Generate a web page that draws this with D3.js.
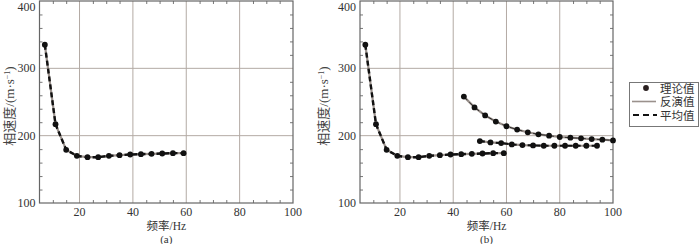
<!DOCTYPE html>
<html>
<head>
<meta charset="utf-8">
<script src="https://cdn.jsdelivr.net/npm/d3@7"></script>
<style>
  body { margin: 0; background: #fff; }
  svg { display: block; }
</style>
</head>
<body>
<script>
// Constantes generales de la figura.
const WIDTH = 700;
const HEIGHT = 244;
const FONT = "'Liberation Serif', 'Noto Sans CJK SC', serif";

// Datos: modo fundamental (aparece en ambos paneles).
const FREQ_MODO0 = [7, 11, 15, 19, 23, 27, 31, 35, 39, 43, 47, 51, 55, 59];
const VEL_MODO0 = [335, 217, 179, 170, 168, 168, 170, 171, 172, 172.5, 173, 173.5, 174, 174];

// Datos del panel (b): primer modo superior.
const FREQ_MODO1 = [44, 48, 52, 56, 60, 64, 68, 72, 76, 80, 84, 88, 92, 96, 100];
const VEL_MODO1 = [258, 242, 230, 221, 214, 209, 205, 202, 200, 198, 197, 196, 195, 194, 193];

// Datos del panel (b): segundo modo superior.
const FREQ_MODO2 = [50, 54, 58, 62, 66, 70, 74, 78, 82, 86, 90, 94];
const VEL_MODO2 = [192, 190, 189, 187, 186, 185.5, 185, 185, 185, 185, 185, 185];

// Ticks y textos.
const X_TICKS = [20, 40, 60, 80, 100];
const Y_TICKS = [100, 200, 300, 400];
const LEYENDA = ["理论值", "反演值", "平均值"];

const svg = d3.select("body")
  .append("svg")
  .attr("width", WIDTH)
  .attr("height", HEIGHT)
  .style("font-family", FONT);

const zip = (xs, ys) => xs.map((x, i) => ({ f: x, v: ys[i] }));

// Dibuja un panel completo. caja = [x0, x1] del área de datos.
function panel(caja, curvas, etiqueta, tituloX, posTituloY) {
  const x = d3.scaleLinear().domain([5, 100]).range(caja);
  const y = d3.scaleLinear().domain([100, 400]).range([203, 1]);
  const g = svg.append("g");

  // Rejilla mayor.
  g.selectAll(".gx").data(X_TICKS.slice(0, -1)).join("line")
    .attr("x1", d => x(d)).attr("x2", d => x(d))
    .attr("y1", y(100)).attr("y2", y(400))
    .attr("stroke", "#b3aaa4").attr("stroke-width", 1);
  g.selectAll(".gy").data([200, 300]).join("line")
    .attr("x1", caja[0]).attr("x2", caja[1])
    .attr("y1", d => y(d)).attr("y2", d => y(d))
    .attr("stroke", "#b3aaa4").attr("stroke-width", 1);

  // Ticks menores hacia adentro en los cuatro lados.
  const menX = d3.range(10, 100, 5).filter(d => d % 20 !== 0);
  const menY = d3.range(120, 400, 20).filter(d => d % 100 !== 0);
  const ejes = [
    [d3.axisBottom(x), y(100), 0],
    [d3.axisTop(x), y(400), 0],
    [d3.axisLeft(y), 0, caja[0]],
    [d3.axisRight(y), 0, caja[1]],
  ];
  ejes.forEach(([eje, ty, tx], i) => {
    const esX = i < 2;
    g.append("g")
      .attr("transform", `translate(${tx},${ty})`)
      .call(eje.tickValues(esX ? menX : menY).tickSizeInner(-3).tickSizeOuter(0).tickFormat(""))
      .call(s => s.select(".domain").remove())
      .selectAll("line").attr("stroke", "#777");
  });

  // Etiquetas de los ejes.
  g.selectAll(".tx").data(X_TICKS).join("text")
    .attr("x", d => x(d)).attr("y", 216)
    .attr("text-anchor", "middle")
    .attr("font-size", 12).attr("fill", "#333")
    .text(d => d);
  g.selectAll(".ty").data(Y_TICKS).join("text")
    .attr("x", caja[0] - 4).attr("y", d => Math.max(y(d) + 4, 11))
    .attr("text-anchor", "end")
    .attr("font-size", 12).attr("fill", "#333")
    .text(d => d);

  // Marco del gráfico.
  g.append("rect")
    .attr("x", caja[0]).attr("y", y(400))
    .attr("width", caja[1] - caja[0]).attr("height", y(100) - y(400))
    .attr("fill", "none").attr("stroke", "#666").attr("stroke-width", 1.2);

  // Títulos.
  const cx = (caja[0] + caja[1]) / 2;
  g.append("text").attr("x", cx).attr("y", 230)
    .attr("text-anchor", "middle").attr("font-size", 11.5).attr("fill", "#333")
    .text(tituloX);
  g.append("text").attr("x", cx).attr("y", 243)
    .attr("text-anchor", "middle").attr("font-size", 11).attr("fill", "#333")
    .text(etiqueta);
  const ty = g.append("text")
    .attr("transform", `translate(${posTituloY},106) rotate(-90)`)
    .attr("text-anchor", "middle").attr("font-size", 13).attr("fill", "#444");
  ty.append("tspan").text("相速度/(m·s");
  ty.append("tspan").attr("dy", -4).attr("font-size", 8).text("−1");
  ty.append("tspan").attr("dy", 4).text(")");

  // Curvas: línea gris (inversión), línea discontinua (promedio) y puntos (teórico).
  const linea = d3.line().x(d => x(d.f)).y(d => y(d.v));
  curvas.forEach(c => {
    g.append("path").datum(c.datos).attr("d", linea)
      .attr("fill", "none").attr("stroke", "#9a918c").attr("stroke-width", 2.2);
    g.append("path").datum(c.datos).attr("d", linea)
      .attr("fill", "none").attr("stroke", "#111")
      .attr("stroke-width", c.grueso).attr("stroke-dasharray", "5,3");
    g.selectAll(null).data(c.datos).join("circle")
      .attr("cx", d => x(d.f)).attr("cy", d => y(d.v)).attr("r", 2.9)
      .attr("fill", "#111");
  });
}

panel([39.5, 293], [{ datos: zip(FREQ_MODO0, VEL_MODO0), grueso: 2.4 }], "(a)", "频率/Hz", 14);
panel([360, 613], [
  { datos: zip(FREQ_MODO0, VEL_MODO0), grueso: 2.4 },
  { datos: zip(FREQ_MODO1, VEL_MODO1), grueso: 0.8 },
  { datos: zip(FREQ_MODO2, VEL_MODO2), grueso: 2.2 },
], "(b)", "频率/Hz", 328);

// Leyenda.
const ley = svg.append("g");
ley.append("rect").attr("x", 629.5).attr("y", 82.5).attr("width", 69).attr("height", 44)
  .attr("fill", "#fff").attr("stroke", "#777").attr("stroke-width", 1);
const filas = [88, 101.5, 115];
ley.append("circle").attr("cx", 646).attr("cy", filas[0]).attr("r", 2.9).attr("fill", "#2a2020");
ley.append("line").attr("x1", 632).attr("x2", 656).attr("y1", filas[1]).attr("y2", filas[1])
  .attr("stroke", "#9a918c").attr("stroke-width", 1.6);
ley.append("line").attr("x1", 633).attr("x2", 657).attr("y1", filas[2]).attr("y2", filas[2])
  .attr("stroke", "#111").attr("stroke-width", 2.2).attr("stroke-dasharray", "6,4");
ley.selectAll(".lt").data(LEYENDA).join("text")
  .attr("x", 660).attr("y", (d, i) => filas[i] + 4.5)
  .attr("font-size", 11.5).attr("fill", "#333")
  .text(d => d);
</script>
</body>
</html>
